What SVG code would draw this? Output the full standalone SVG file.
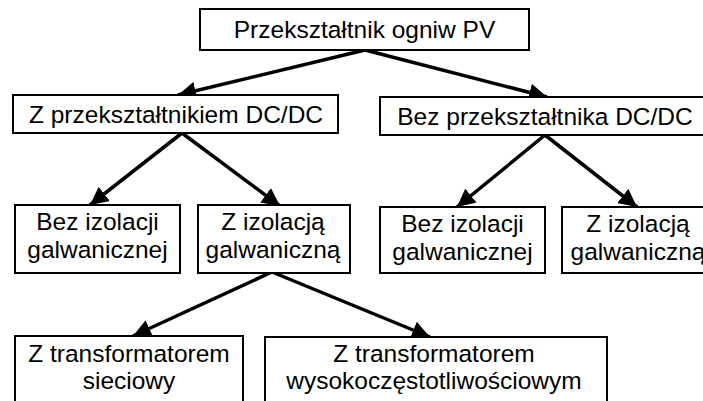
<svg xmlns="http://www.w3.org/2000/svg" width="703" height="401" viewBox="0 0 703 401">
<style>
.box{fill:#fff;stroke:#000;stroke-width:2}
.t{font-family:"Liberation Sans",Arial,sans-serif;font-size:24.5px;fill:#000;text-anchor:middle}
.c{stroke:#000;stroke-width:3.5;fill:none;marker-end:url(#ah)}
</style>
<defs>
<marker id="ah" markerUnits="userSpaceOnUse" markerWidth="20" markerHeight="18" refX="18" refY="9" orient="auto" viewBox="0 0 20 18">
<path d="M0,0 L18,9 L0,18 Z" fill="#000"/>
</marker>
</defs>
<rect width="703" height="401" fill="#fff"/>
<g id="connectors">
<line class="c" x1="365" y1="50" x2="178" y2="95"/>
<line class="c" x1="365" y1="50" x2="547" y2="97"/>
<line class="c" x1="182" y1="133" x2="90" y2="205"/>
<line class="c" x1="182" y1="133" x2="280" y2="206"/>
<line class="c" x1="545" y1="135" x2="457" y2="207"/>
<line class="c" x1="545" y1="135" x2="637" y2="207"/>
<line class="c" x1="272" y1="272" x2="133" y2="336"/>
<line class="c" x1="272" y1="272" x2="430" y2="337"/>
</g>
<g id="root">
<rect class="box" x="200" y="9" width="329" height="41"/>
<text class="t" x="364.5" y="38">Przekształtnik ogniw PV</text>
</g>
<g id="with-dcdc">
<rect class="box" x="13" y="95" width="325" height="38"/>
<text class="t" x="176" y="123">Z przekształtnikiem DC/DC</text>
</g>
<g id="without-dcdc">
<rect class="box" x="380" y="97" width="330" height="38"/>
<text class="t" x="545" y="125">Bez przekształtnika DC/DC</text>
</g>
<g id="with-dcdc-no-iso">
<rect class="box" x="15" y="205" width="165" height="68"/>
<text class="t" x="97.5" y="230">Bez izolacji</text>
<text class="t" x="97.5" y="258">galwanicznej</text>
</g>
<g id="with-dcdc-iso">
<rect class="box" x="198" y="205" width="152" height="68"/>
<text class="t" x="273" y="230">Z izolacją</text>
<text class="t" x="273" y="258">galwaniczną</text>
</g>
<g id="without-dcdc-no-iso">
<rect class="box" x="380" y="207" width="165" height="66"/>
<text class="t" x="462.5" y="232">Bez izolacji</text>
<text class="t" x="462.5" y="260">galwanicznej</text>
</g>
<g id="without-dcdc-iso">
<rect class="box" x="562" y="207" width="152" height="66"/>
<text class="t" x="638" y="232">Z izolacją</text>
<text class="t" x="638" y="260">galwaniczną</text>
</g>
<g id="grid-transformer">
<rect class="box" x="15" y="336" width="228" height="80"/>
<text class="t" x="129" y="362">Z transformatorem</text>
<text class="t" x="129" y="389">sieciowy</text>
</g>
<g id="hf-transformer">
<rect class="box" x="265" y="337" width="342" height="80"/>
<text class="t" x="434" y="362">Z transformatorem</text>
<text class="t" x="434" y="389">wysokoczęstotliwościowym</text>
</g>
</svg>
